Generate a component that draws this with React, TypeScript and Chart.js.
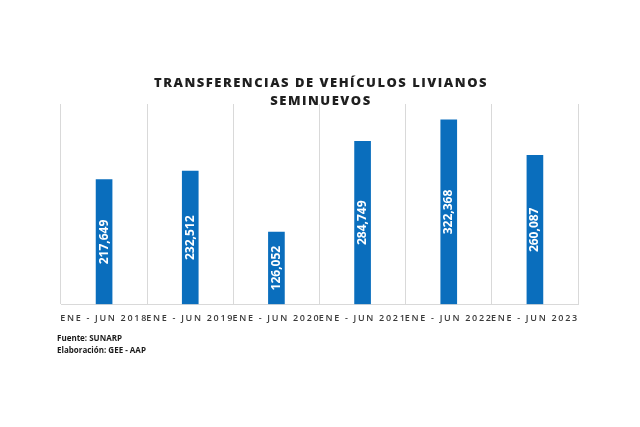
import React, { useEffect, useRef } from "react";
import { Chart, registerables } from "chart.js";

Chart.register(...registerables);

const categories = [
  "ENE - JUN 2018",
  "ENE - JUN 2019",
  "ENE - JUN 2020",
  "ENE - JUN 2021",
  "ENE - JUN 2022",
  "ENE - JUN 2023",
];
const values = [217649, 232512, 126052, 284749, 322368, 260087];
const titleLines = ["TRANSFERENCIAS DE VEHÍCULOS LIVIANOS", "SEMINUEVOS"];
const footerLines = ["Fuente: SUNARP", "Elaboración: GEE - AAP"];

const fmt = (v: number) => v.toLocaleString("en-US");

const overlayPlugin = {
  id: "overlay",
  beforeDraw(chart: any) {
    const ctx = chart.ctx;
    ctx.fillStyle = "#ffffff";
    ctx.fillRect(0, 0, chart.width, chart.height);
    (ctx as any).letterSpacing = "1.7px";
  },
  afterDatasetsDraw(chart: any) {
    const ctx = chart.ctx;
    const meta = chart.getDatasetMeta(0);
    ctx.save();
    (ctx as any).letterSpacing = "0px";
    ctx.fillStyle = "#ffffff";
    ctx.font = "bold 12px 'Open Sans'";
    ctx.textAlign = "center";
    ctx.textBaseline = "middle";
    meta.data.forEach((bar: any, i: number) => {
      const cy = (bar.y + bar.base) / 2;
      ctx.save();
      ctx.translate(bar.x, cy);
      ctx.rotate(-Math.PI / 2);
      ctx.fillText(fmt(values[i]), 0, 0);
      ctx.restore();
    });
    ctx.restore();
  },
  afterDraw(chart: any) {
    const ctx = chart.ctx;
    ctx.save();
    ctx.fillStyle = "#1f1f1f";
    ctx.textAlign = "center";
    ctx.textBaseline = "middle";
    ctx.font = "800 13px 'Open Sans'";
    (ctx as any).letterSpacing = "1.5px";
    ctx.fillText(titleLines[0], 321, 83);
    ctx.fillText(titleLines[1], 321, 101);
    ctx.fillStyle = "#1a1a1a";
    ctx.textAlign = "left";
    ctx.font = "bold 8px 'Open Sans'";
    (ctx as any).letterSpacing = "0px";
    ctx.fillText(footerLines[0], 57, 339);
    ctx.fillText(footerLines[1], 57, 351);
    ctx.restore();
  },
};

export default function App() {
  const ref = useRef<HTMLCanvasElement>(null);
  useEffect(() => {
    if (!ref.current) return;
    const chart = new Chart(ref.current, {
      type: "bar",
      data: {
        labels: categories,
        datasets: [
          {
            data: values,
            backgroundColor: "#0a6ebd",
            barThickness: 16,
          },
        ],
      },
      options: {
        animation: false,
        responsive: false,
        layout: { padding: { left: 61, right: 62, top: 104, bottom: 94 } },
        plugins: { legend: { display: false }, tooltip: { enabled: false } },
        scales: {
          x: {
            grid: { display: true, offset: true, color: "#d9d9d9", drawTicks: false },
            border: { display: true, color: "#d9d9d9" },
            ticks: {
              autoSkip: false,
              maxRotation: 0,
              padding: 9,
              color: "#3a3a3a",
              font: { family: "'Open Sans'", size: 9, weight: "600" },
            },
          },
          y: {
            display: false,
            min: 0,
            max: 350000,
          },
        },
      },
      plugins: [overlayPlugin],
    });
    return () => chart.destroy();
  }, []);
  return (
    <div style={{ position: "fixed", left: 0, top: 0, width: 640, height: 427 }}>
      <canvas ref={ref} width={640} height={427} style={{ width: 640, height: 427 }} />
    </div>
  );
}
